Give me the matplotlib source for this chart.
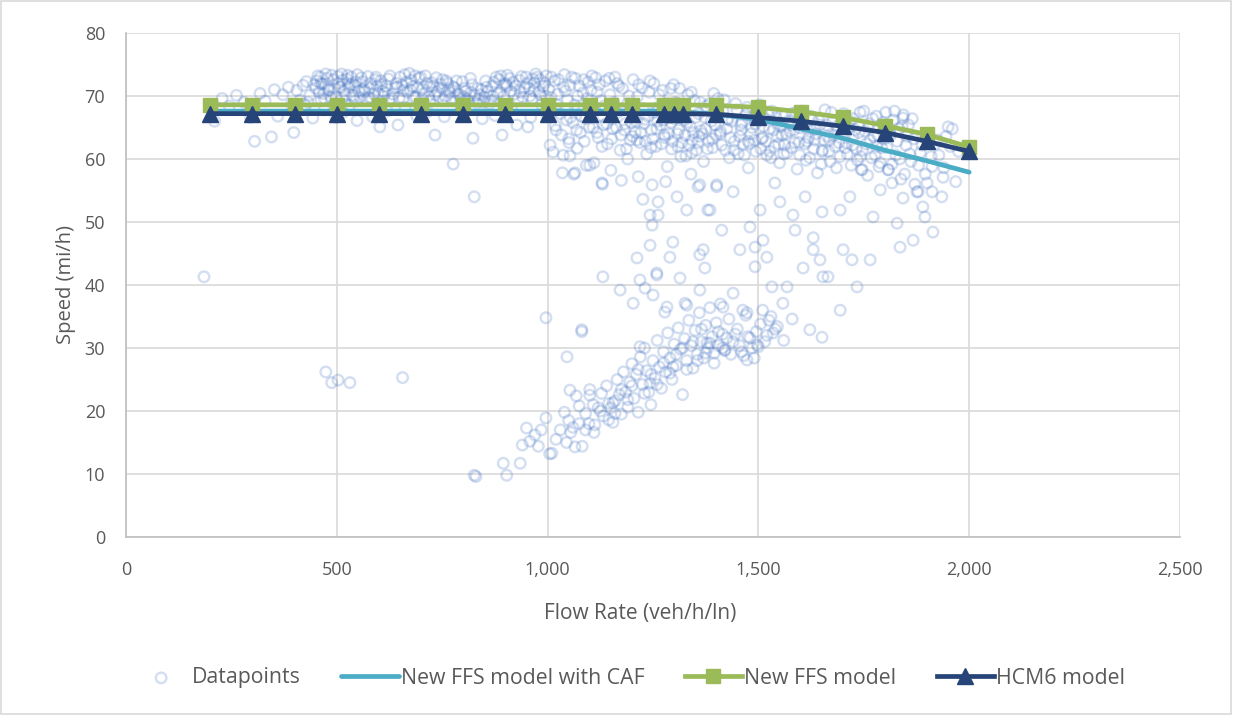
import matplotlib
matplotlib.use('Agg')
import matplotlib.pyplot as plt
from matplotlib.patches import Rectangle
from matplotlib.ticker import FuncFormatter, MultipleLocator

# ---- model curves (flow in veh/h/ln, speed in mi/h) ----
model_flow = [200, 300, 400, 500, 600, 700, 800, 900, 1000, 1100, 1150, 1200,
              1275, 1300, 1320, 1400, 1500, 1600, 1700, 1800, 1900, 2000]
ffs_caf = [67.6, 67.6, 67.6, 67.6, 67.6, 67.6, 67.6, 67.6, 67.6, 67.6, 67.6, 67.6,
           67.6, 67.6, 67.5, 67.1, 66.3, 64.8, 63.3, 61.4, 59.7, 57.9]
ffs_new = [68.6, 68.6, 68.6, 68.6, 68.6, 68.6, 68.6, 68.6, 68.6, 68.6, 68.6, 68.6,
           68.6, 68.6, 68.6, 68.5, 68.2, 67.5, 66.6, 65.3, 63.9, 61.9]
hcm6 = [67.2, 67.2, 67.2, 67.2, 67.2, 67.2, 67.2, 67.2, 67.2, 67.2, 67.2, 67.2,
        67.2, 67.2, 67.2, 67.1, 66.6, 66.0, 65.2, 64.2, 62.8, 61.2]

# ---- observed datapoints ----
# free-flow band
band_flow = [
    210, 228, 245, 262, 280, 295,
    305, 318, 330, 345, 352, 360, 372, 385, 392, 398,
    405, 412, 420, 428, 436, 443, 450, 455, 462, 468, 474, 480, 486, 492, 498, 470, 425,
    503, 508, 514, 520, 526, 532, 540, 546, 552, 558, 565, 572, 580, 588, 596, 515, 548, 585, 530,
    602, 606, 614, 622, 630, 638, 645, 650, 658, 665, 672, 680, 688, 695, 620, 662, 690,
    702, 710, 718, 725, 733, 738, 745, 752, 760, 768, 775, 782, 790, 798, 715, 755, 776, 795,
    803, 810, 818, 823, 832, 840, 848, 855, 862, 870, 878, 885, 892, 898, 845, 875,
    905, 912, 918, 927, 930, 938, 945, 953, 958, 965, 972, 980, 986, 993, 999, 915, 960,
    1006, 1008, 1013, 1016, 1024, 1030, 1037, 1040, 1047, 1053, 1060, 1066, 1072, 1078,
    1084, 1090, 1096, 1020, 1050, 1070, 1092, 1035, 1062,
    1103, 1108, 1114, 1120, 1126, 1131, 1137, 1142, 1148, 1154, 1160, 1166, 1172, 1178,
    1184, 1190, 1196, 1110, 1150, 1175, 1130, 1190,
    1203, 1208, 1213, 1219, 1224, 1230, 1235, 1241, 1246, 1252, 1257, 1262, 1268, 1273,
    1278, 1284, 1289, 1294, 1299, 1215, 1280,
    1303, 1308, 1313, 1318, 1323, 1328, 1333, 1338, 1343, 1348, 1353, 1358, 1364, 1370,
    1376, 1382, 1388, 1394, 1399, 1340,
    1404, 1410, 1416, 1422, 1428, 1434, 1446, 1452, 1458, 1464, 1470, 1476, 1482, 1488, 1494,
    1503, 1508, 1514, 1520, 1526, 1532, 1538, 1544, 1550, 1556, 1562, 1568, 1574, 1580,
    1586, 1592, 1598,
    1604, 1610, 1616, 1622, 1628, 1634, 1640, 1646, 1652, 1658, 1664, 1670, 1676, 1682,
    1688, 1694,
    1702, 1708, 1714, 1720, 1726, 1732, 1738, 1744, 1750, 1756, 1762, 1768, 1774, 1780,
    1786, 1792,
    1802, 1808, 1814, 1820, 1826, 1832, 1838, 1844, 1850, 1856, 1862, 1868, 1884, 1896,
    1904, 1912, 1920, 1928, 1945, 1950, 1960, 1968, 1975, 1843,
]
band_speed = [
    66.0, 69.6, 68.4, 70.1, 69.0, 66.6,
    62.8, 70.4, 69.2, 63.5, 71.0, 66.8, 70.2, 71.4, 68.7, 64.2,
    70.9, 69.3, 71.7, 72.3, 70.1, 66.5, 71.2, 73.2, 72.0, 70.4, 73.5, 71.5, 69.8, 72.6, 66.6, 67.8, 68.5,
    73.1, 71.4, 72.5, 70.2, 73.3, 71.8, 69.7, 72.2, 70.8, 72.9, 71.1, 69.4, 72.0, 70.3, 71.6, 67.4, 66.1, 66.7, 68.5,
    65.1, 71.9, 70.5, 72.7, 69.6, 71.3, 65.4, 73.0, 70.9, 72.2, 73.6, 71.5, 69.9, 72.8, 67.6, 68.2, 66.8,
    71.0, 73.2, 70.0, 72.1, 63.8, 70.7, 71.9, 69.4, 72.4, 70.6, 71.5, 69.2, 70.3, 72.3, 67.5, 66.7, 59.2, 67.9,
    71.2, 69.5, 70.6, 63.3, 68.9, 70.2, 69.0, 71.4, 68.8, 70.0, 73.0, 72.6, 63.8, 71.8, 66.4, 66.9,
    73.3, 70.8, 72.2, 65.4, 69.6, 73.1, 71.3, 65.1, 70.0, 72.7, 73.5, 70.6, 68.6, 72.1, 67.0, 67.8, 66.6,
    62.2, 69.8, 61.1, 72.4, 70.3, 67.2, 60.6, 73.4, 69.4, 71.7, 65.8, 72.8, 68.0, 64.2,
    70.5, 66.4, 72.2, 64.6, 63.2, 61.7, 59.0, 57.8, 57.6,
    70.9, 65.0, 72.9, 63.4, 69.3, 66.7, 72.4, 62.4, 70.2, 64.8, 73.0, 67.4, 61.4, 71.2,
    65.6, 68.8, 63.0, 59.4, 58.2, 56.6, 56.0, 60.0,
    72.6, 64.2, 69.9, 62.6, 71.3, 66.3, 60.8, 70.6, 64.6, 72.0, 62.0, 68.2, 65.4, 70.9,
    63.4, 58.8, 67.2, 61.6, 71.8, 57.2, 56.4,
    69.0, 64.0, 71.2, 62.6, 66.9, 60.5, 70.2, 65.2, 63.0, 69.3, 61.4, 67.2, 64.5, 59.6,
    68.4, 62.8, 66.0, 70.4, 63.8, 57.6,
    69.6, 64.4, 67.6, 61.4, 66.2, 63.4, 68.8, 60.8, 65.4, 62.4, 67.0, 58.6, 64.0, 66.6, 61.2,
    68.6, 63.2, 66.4, 60.6, 64.8, 67.6, 62.0, 65.6, 59.4, 63.8, 66.8, 61.0, 64.4, 67.2,
    62.6, 58.4, 65.0,
    67.6, 62.4, 64.8, 60.2, 66.2, 63.0, 57.8, 65.4, 61.4, 67.8, 63.6, 59.6, 66.0, 62.0,
    64.6, 60.4,
    67.2, 62.6, 65.0, 59.0, 66.4, 61.6, 64.2, 58.3, 67.6, 62.4, 65.6, 60.2, 63.6, 66.8,
    58.8, 61.8,
    67.4, 58.3, 63.8, 66.2, 60.6, 64.8, 56.8, 67.0, 62.2, 65.4, 59.6, 63.2, 61.0, 57.6,
    64.0, 58.8, 62.4, 60.6, 63.6, 65.1, 64.8, 56.4, 61.2, 66.5,
]

# more free-flow observations, (flow, speed)
band_extra = [
    (452, 72.4), (458, 70.6), (461, 73.0), (466, 71.9), (471, 69.6), (477, 72.8),
    (482, 70.9), (488, 73.3), (494, 71.2), (499, 69.9), (504, 72.0), (511, 73.5),
    (517, 70.8), (523, 72.7), (528, 71.4), (534, 73.0), (538, 70.1), (543, 71.7),
    (549, 73.4), (555, 69.8), (561, 72.3), (567, 70.7), (574, 73.1), (578, 71.2),
    (583, 69.6), (591, 72.6), (598, 70.4),
    (604, 72.4), (611, 69.9), (617, 71.6), (626, 73.2), (633, 70.3), (641, 72.0),
    (648, 69.7), (655, 71.7), (661, 73.4), (668, 70.6), (676, 72.5), (683, 69.8),
    (691, 71.3), (699, 73.0), (706, 70.4), (713, 72.0), (721, 69.3), (729, 71.6),
    (736, 72.9), (742, 69.9), (749, 71.2), (757, 70.0), (763, 72.0), (771, 69.6),
    (779, 71.3), (786, 70.4), (794, 69.5),
    (806, 70.8), (813, 69.2), (821, 71.8), (828, 70.1), (836, 69.4), (843, 71.0),
    (851, 69.8), (858, 70.7), (866, 69.3), (873, 72.2), (881, 70.4), (889, 73.2),
    (896, 69.9), (903, 71.6), (910, 72.8), (921, 70.3), (933, 72.5), (941, 69.8),
    (949, 73.0), (956, 71.2), (963, 69.5), (969, 72.1), (976, 73.0), (983, 70.2),
    (990, 71.5), (997, 73.2),
    (1003, 71.0), (1011, 67.4), (1018, 65.3), (1026, 72.6), (1033, 63.8), (1042, 70.8),
    (1045, 66.2), (1051, 62.6), (1057, 73.0), (1064, 68.6), (1069, 64.6), (1075, 71.6),
    (1081, 66.8), (1087, 62.8), (1094, 69.6), (1099, 65.0), (1105, 73.2), (1111, 67.8),
    (1117, 64.2), (1123, 71.8), (1129, 62.0), (1134, 68.4), (1140, 65.6), (1146, 72.8),
    (1152, 63.2), (1157, 69.0), (1163, 65.0), (1169, 71.6), (1174, 63.8), (1181, 67.8),
    (1187, 61.6), (1193, 70.0), (1199, 65.8),
    (1201, 63.6), (1206, 68.6), (1211, 66.0), (1216, 71.8), (1221, 64.2), (1227, 68.0),
    (1232, 62.8), (1238, 66.8), (1243, 72.4), (1249, 63.2), (1254, 67.4), (1259, 64.8),
    (1265, 70.2), (1270, 62.4), (1276, 66.2), (1281, 68.8), (1287, 64.0), (1292, 71.2),
    (1297, 62.8), (1301, 66.4), (1306, 68.8), (1311, 64.6), (1316, 60.4), (1321, 68.0),
    (1326, 63.8), (1331, 65.8), (1336, 62.2), (1341, 70.6), (1346, 64.2), (1351, 66.6),
    (1356, 62.6), (1362, 69.0), (1367, 64.0), (1373, 66.6), (1379, 61.6), (1384, 68.8),
    (1391, 63.2), (1397, 65.4),
    (1407, 66.8), (1413, 62.2), (1419, 69.4), (1425, 64.8), (1431, 60.2), (1437, 66.0),
    (1443, 62.8), (1449, 67.8), (1455, 63.6), (1461, 65.8), (1467, 60.6), (1473, 68.2),
    (1479, 62.4), (1485, 65.0), (1491, 63.0), (1497, 67.4), (1506, 61.6), (1512, 65.2),
    (1518, 62.8), (1524, 67.0), (1530, 60.2), (1536, 64.6), (1542, 66.6), (1548, 62.4),
    (1554, 65.2), (1560, 60.8), (1566, 64.0), (1572, 66.0), (1578, 61.8), (1584, 64.6),
    (1590, 67.4), (1596, 62.6),
    (1606, 65.6), (1613, 59.8), (1619, 63.4), (1625, 66.8), (1631, 61.6), (1637, 64.0),
    (1643, 66.2), (1649, 59.2), (1655, 63.0), (1661, 65.4), (1667, 61.2), (1673, 67.4),
    (1679, 63.8), (1685, 58.6), (1691, 62.6), (1697, 66.0), (1705, 63.8), (1711, 60.8),
    (1717, 66.0), (1723, 62.2), (1729, 64.6), (1735, 59.8), (1741, 67.4), (1747, 61.4),
    (1753, 64.4), (1759, 57.4), (1765, 63.0), (1771, 66.4), (1777, 60.6), (1783, 63.8),
    (1789, 59.4), (1795, 65.8), (1805, 61.8), (1811, 64.4), (1817, 59.2), (1823, 67.6),
    (1829, 62.8), (1835, 60.0), (1841, 65.2), (1847, 57.6), (1853, 63.6), (1859, 60.8),
    (1865, 66.4), (1871, 56.0), (1880, 59.0), (1888, 62.2), (1900, 56.2), (1910, 60.4),
    (1925, 63.0), (1940, 58.6), (1955, 62.0),
]

# thick core of the free-flow cloud, (flow, speed)
band_core = [
    (432, 69.0), (447, 71.8), (463, 69.4), (479, 71.0), (496, 68.8), (512, 69.6),
    (527, 72.0), (544, 69.2), (559, 71.0), (576, 69.8), (593, 73.0), (609, 70.8),
    (624, 69.4), (643, 71.4), (657, 69.6), (674, 71.0), (686, 73.2), (703, 69.6),
    (719, 71.4), (734, 70.2), (751, 72.6), (766, 71.0), (784, 72.4), (801, 69.9),
    (817, 72.8), (834, 71.2), (853, 72.4), (869, 71.6), (887, 70.6), (901, 72.0),
    (924, 71.6), (936, 70.6), (951, 72.0), (967, 70.8), (982, 72.6), (995, 70.0),
    (1009, 73.0), (1022, 68.6), (1038, 71.4), (1054, 66.6), (1071, 70.0), (1086, 72.6),
    (1102, 68.0), (1118, 70.6), (1133, 65.4), (1149, 67.6), (1165, 72.0), (1182, 64.6),
    (1198, 68.4), (1212, 63.0), (1229, 65.6), (1245, 61.8), (1261, 66.0), (1277, 63.8),
    (1293, 65.8), (1309, 62.0), (1325, 66.2), (1342, 61.0), (1359, 63.6), (1375, 64.8),
    (1392, 61.8), (1409, 64.0), (1426, 66.4), (1442, 61.4), (1459, 64.6), (1476, 62.8),
    (1493, 65.6), (1510, 63.4), (1527, 61.2), (1545, 63.6), (1562, 62.2), (1580, 65.4),
    (1598, 60.6), (1615, 62.8), (1633, 64.8), (1651, 61.2), (1669, 63.0), (1687, 65.2),
    (1706, 61.8), (1724, 63.6), (1742, 60.4), (1761, 65.0), (1780, 62.0), (1799, 63.2),
]

# transition scatter between free flow and congestion
trans_flow = [
    1065, 1129, 1131, 1172, 1203, 1212, 1219, 1259, 1297, 1262, 1307, 1330, 1385, 1361,
    1401, 1361, 1248, 1262, 1243, 1248, 1243, 1290, 1259, 1314, 1231, 1250, 1283, 1330,
    1361, 1369, 1373, 1357, 1380, 1401, 1440, 1456, 1413, 1440, 1416, 1463, 1473, 1480,
    1504, 1492, 1492, 1511, 1520, 1532, 1539, 1551, 1568, 1558, 1587, 1582, 1606, 1611,
    1630, 1651, 1630, 1646, 1653, 1665, 1694, 1701, 1722, 1717, 1734, 1694, 1746, 1765,
    1772, 1789, 1808, 1817, 1829, 1843, 1867, 1876, 1890, 1895, 1914, 1935, 1938, 1836,
    1879, 1912, 1278, 1326, 1100, 1053, 1226,
]
trans_speed = [
    57.8, 56.2, 41.3, 39.2, 37.1, 44.3, 40.8, 41.9, 46.8, 51.1, 54.0, 51.9, 51.9, 55.9,
    55.9, 44.8, 55.9, 53.2, 51.1, 49.5, 46.3, 44.4, 41.6, 41.1, 39.5, 38.4, 36.5, 36.8,
    39.2, 45.6, 42.7, 55.6, 51.9, 55.6, 54.8, 45.6, 48.7, 38.7, 36.5, 36.0, 35.6, 49.2,
    51.9, 46.0, 42.9, 47.1, 44.4, 39.7, 56.2, 53.2, 39.7, 37.1, 48.7, 51.1, 42.7, 54.0,
    47.5, 51.6, 45.6, 44.0, 41.3, 41.3, 51.9, 45.6, 44.0, 54.0, 39.7, 36.0, 58.3, 44.0,
    50.8, 55.1, 58.3, 56.2, 49.8, 53.8, 47.1, 54.8, 52.4, 50.8, 48.4, 54.0, 57.1, 46.0,
    54.8, 54.8, 35.7, 37.1, 59.0, 60.5, 53.6,
]

# congested branch
cong_flow = [
    826, 830, 895, 903, 935, 940, 950, 958, 970, 978, 985, 996, 1005, 1010, 1020, 1030,
    1040, 1050, 1055, 1060, 1065, 1068, 1075, 1082, 1090, 1098, 1100, 1108, 1112, 1120,
    1128, 1132, 1140, 1145, 1150, 1155, 1160, 1165, 1170, 1175, 1180, 1185, 1190, 1195,
    1200, 1205, 1210, 1215, 1220, 1225, 1230, 1235, 1240, 1245, 1250, 1255, 1260, 1265,
    1270, 1275, 1280, 1285, 1290, 1295, 1300, 1305, 1310, 1315, 1320, 1325, 1330, 1335,
    1340, 1345, 1350, 1355, 1360, 1365, 1370, 1375, 1380, 1385, 1390, 1395, 1400, 1405,
    1410, 1415, 1420, 1430, 1440, 1450, 1460, 1470, 1480, 1490, 1500, 1505, 1510, 1520,
    1530, 1535, 1545, 1560, 1580, 1622, 1651, 996, 1046, 1081, 1081, 1053, 1100, 1219,
    1155, 1243, 1297, 1378, 1421, 1473, 1497,
]
cong_speed = [
    9.8, 9.6, 11.7, 9.8, 11.7, 14.6, 17.3, 15.2, 16.2, 14.4, 17.0, 18.9, 13.2, 13.3, 15.5, 17.0,
    19.8, 18.5, 16.6, 17.4, 14.3, 22.4, 20.8, 14.4, 19.6, 18.0, 23.4, 21.0, 17.8, 20.5,
    22.8, 19.2, 24.0, 21.2, 20.5, 18.2, 21.6, 25.0, 22.6, 19.5, 26.2, 23.0, 20.6, 24.6,
    27.5, 22.0, 25.8, 19.8, 28.6, 24.2, 30.0, 26.4, 23.0, 21.0, 28.0, 25.2, 31.2, 27.0,
    23.6, 29.4, 26.2, 32.4, 28.4, 25.0, 30.6, 27.2, 33.2, 29.8, 22.6, 31.5, 28.0, 34.4,
    30.4, 26.8, 32.8, 29.0, 35.6, 31.0, 28.4, 33.6, 30.0, 36.4, 31.8, 29.2, 34.0, 30.4,
    37.0, 32.2, 29.6, 34.6, 31.0, 33.0, 29.4, 35.2, 31.6, 28.4, 30.2, 33.8, 36.0, 32.0,
    35.0, 32.4, 33.4, 31.2, 34.6, 32.9, 31.7, 34.8, 28.6, 32.6, 32.9, 23.3, 22.5, 30.2,
    21.3, 24.4, 27.0, 30.8, 29.7, 28.1, 30.5,
]

# denser core of the congested branch, (flow, speed)
cong_extra = [
    (1320, 30.0), (1330, 26.6), (1345, 31.0), (1355, 28.0), (1365, 33.0), (1375, 29.2),
    (1385, 30.8), (1395, 27.6), (1405, 32.6), (1415, 30.0), (1425, 31.6), (1435, 29.0),
    (1445, 32.2), (1455, 30.4), (1465, 28.8), (1475, 31.8), (1485, 30.0), (1495, 32.6),
    (1515, 31.0), (1525, 34.4), (1540, 33.0), (1200, 24.0), (1215, 26.6), (1230, 22.8),
    (1245, 25.8), (1260, 24.2), (1275, 27.6), (1290, 26.0), (1305, 29.0), (1160, 19.6),
    (1175, 23.4), (1190, 21.8), (1145, 18.6), (1125, 20.0), (1110, 16.6), (1090, 17.0),
    (1075, 18.0), (1045, 15.0),
]

# isolated observations
out_flow = [185, 474, 488, 503, 531, 656, 826]
out_speed = [41.3, 26.2, 24.5, 24.9, 24.5, 25.3, 54.0]

pairs = band_extra + band_core + cong_extra
pts_flow = band_flow + trans_flow + cong_flow + out_flow + [f for f, _ in pairs]
pts_speed = band_speed + trans_speed + cong_speed + out_speed + [v for _, v in pairs]

TXT = '#595959'
plt.rcParams['font.family'] = ['Open Sans', 'DejaVu Sans']

fig = plt.figure(figsize=(12.33, 7.15), dpi=100)
ax = fig.add_axes([126 / 1233, 178 / 715, 1054 / 1233, 504 / 715])

# scatter of observations: hollow rings, light and translucent
ax.scatter(pts_flow, pts_speed, s=58, facecolors='none',
           edgecolors=(0.267, 0.447, 0.769, 0.23), linewidths=1.7,
           zorder=2, label='Datapoints')

ax.plot(model_flow, ffs_caf, color='#4BACC6', linewidth=3.4,
        solid_capstyle='round', zorder=3, label='New FFS model with CAF')
ax.plot(model_flow, ffs_new, color='#9BBB59', linewidth=3.4, marker='s',
        markersize=10, zorder=4, label='New FFS model')
ax.plot(model_flow, hcm6, color='#264478', linewidth=3.4, marker='^',
        markersize=11, zorder=5, label='HCM6 model')

ax.set_xlim(0, 2500)
ax.set_ylim(0, 80)
ax.xaxis.set_major_locator(MultipleLocator(500))
ax.yaxis.set_major_locator(MultipleLocator(10))
ax.xaxis.set_major_formatter(FuncFormatter(lambda v, p: f'{int(v):,}'))
ax.grid(True, color='#d9d9d9', linewidth=1.2, zorder=0)
ax.set_axisbelow(True)
for s in ['top', 'right']:
    ax.spines[s].set_visible(False)
for s in ['left', 'bottom']:
    ax.spines[s].set_color('#bfbfbf')
    ax.spines[s].set_linewidth(1.2)
ax.tick_params(length=0, labelsize=13, labelcolor=TXT)
ax.tick_params(axis='x', pad=17)
ax.tick_params(axis='y', pad=15)

ax.set_xlabel('Flow Rate (veh/h/ln)', fontsize=15, color=TXT, labelpad=9)
ax.xaxis.set_label_coords(0.488, -0.13)
ax.set_ylabel('Speed (mi/h)', fontsize=14.5, color=TXT, labelpad=6)

fig.legend(loc='center', bbox_to_anchor=(0.51, 37 / 715), ncol=4, frameon=False,
           fontsize=15.3, labelcolor=TXT, handlelength=2.7, handletextpad=0.1,
           columnspacing=1.9, markerscale=1.0)

# chart border
fig.add_artist(Rectangle((0.001, 0.001), 0.997, 0.997, transform=fig.transFigure,
                         fill=False, edgecolor='#d9d9d9', linewidth=1.2))

fig.savefig('out.png', dpi=100)
